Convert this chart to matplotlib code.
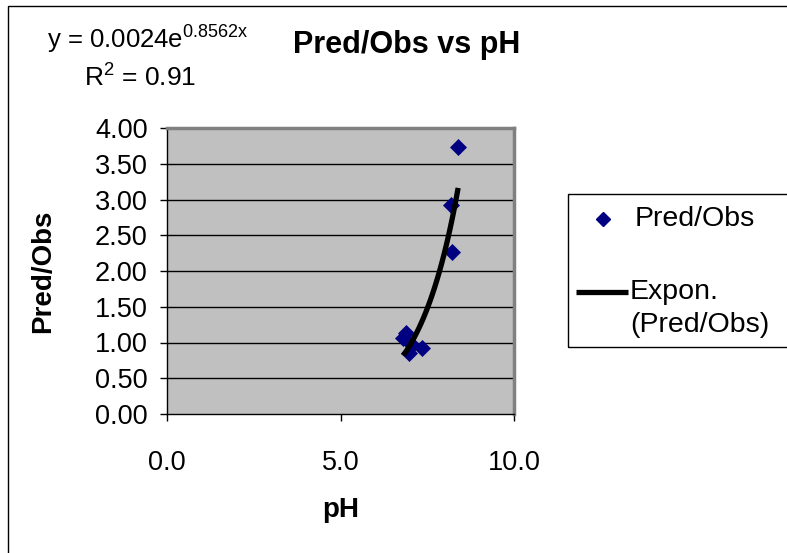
"""Pred/Obs against pH with an exponential trend line."""
import numpy as np
import matplotlib
matplotlib.use("Agg")
import matplotlib.pyplot as plt
from matplotlib.lines import Line2D
from matplotlib.patches import Rectangle

plt.rcParams['font.family'] = ['Liberation Sans', 'DejaVu Sans']
plt.rcParams['mathtext.fontset'] = 'custom'
plt.rcParams['mathtext.rm'] = 'Liberation Sans'
plt.rcParams['mathtext.it'] = 'Liberation Sans'

# data
ph = [6.81, 6.90, 6.98, 7.05, 7.34, 8.19, 8.22, 8.39]
pred_obs = [1.06, 1.13, 0.85, 0.97, 0.92, 2.92, 2.26, 3.73]
fit_a = 0.0024
fit_b = 0.8562
fit_r2 = 0.91
x_ticks = [0.0, 5.0, 10.0]
y_ticks = [0.0, 0.5, 1.0, 1.5, 2.0, 2.5, 3.0, 3.5, 4.0]

W, H = 787, 553
NAVY = "#000080"


def fx(px):
    return px / W


def fy(py):
    return 1 - py / H


fig = plt.figure(figsize=(W / 100, H / 100), dpi=100)
fig.patch.set_facecolor("white")

ax = fig.add_axes([fx(167), fy(414), (514 - 167) / W, (414 - 128) / H])
ax.set_facecolor("#C0C0C0")

ax.scatter(ph, pred_obs, marker="D", s=75, color=NAVY, zorder=3,
           linewidths=0)
xs = np.linspace(min(ph), max(ph), 100)
ax.plot(xs, fit_a * np.exp(fit_b * xs), color="black", lw=3.8, zorder=4,
        solid_capstyle="butt")

ax.set_xlim(0, 10)
ax.set_ylim(0, 4)
ax.set_xticks(x_ticks)
ax.set_xticklabels([f"{v:.1f}" for v in x_ticks])
ax.set_yticks(y_ticks)
ax.set_yticklabels([f"{v:.2f}" for v in y_ticks])
ax.tick_params(direction="out", length=5, width=1, labelsize=19.5)
ax.tick_params(axis="x", pad=21)
ax.tick_params(axis="y", pad=9)
for y in y_ticks[1:-1]:
    ax.axhline(y, color="black", lw=1, zorder=1)

for side in ["top", "right"]:
    ax.spines[side].set_color("#808080")
    ax.spines[side].set_linewidth(2.5)
for side in ["bottom", "left"]:
    ax.spines[side].set_color("black")
    ax.spines[side].set_linewidth(1)

ax.set_xlabel("pH", fontsize=20, fontweight="bold", labelpad=15)
ax.set_ylabel("Pred/Obs", fontsize=20, fontweight="bold", labelpad=28)

fig.text(fx(407), fy(45), "Pred/Obs vs pH", fontsize=22, fontweight="bold",
         ha="center", va="center")
fig.text(fx(47), fy(40), f"y = {fit_a}e$^{{{fit_b}x}}$", fontsize=18.5,
         ha="left", va="center")
fig.text(fx(140), fy(78), r"R$^{2}$ = " + f"{fit_r2:.2f}", fontsize=19,
         ha="center", va="center")

# legend box, drawn by hand so the line sits beside "Expon."
fig.add_artist(Rectangle((fx(568), fy(347)), 0.5, (347 - 194) / H,
                         transform=fig.transFigure, fill=False,
                         edgecolor="black", lw=1))
fig.add_artist(Line2D([fx(603)], [fy(219)], marker="D", ls="none",
                      color=NAVY, ms=7.5, transform=fig.transFigure))
fig.text(fx(635), fy(219), "Pred/Obs", fontsize=20.5, ha="left", va="center")
fig.add_artist(Line2D([fx(576), fx(628)], [fy(292), fy(292)], color="black",
                      lw=3.8, transform=fig.transFigure,
                      solid_capstyle="butt"))
fig.text(fx(630), fy(292), "Expon.", fontsize=20.5, ha="left", va="center")
fig.text(fx(630), fy(325), "(Pred/Obs)", fontsize=20.5, ha="left",
         va="center")

# outer chart border
fig.add_artist(Rectangle((fx(8), -0.1), 1.2, fy(6) + 0.1,
                         transform=fig.transFigure, fill=False,
                         edgecolor="black", lw=1))

fig.savefig("out.png", dpi=100)
